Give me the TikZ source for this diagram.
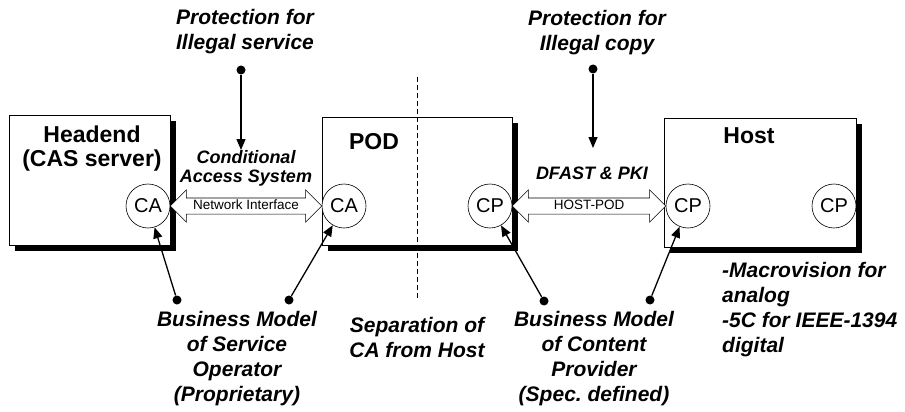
\documentclass[tikz,border=0pt]{standalone}
\usepackage{fontspec}
\setmainfont{Liberation Sans}
\usetikzlibrary{arrows.meta, calc, shapes.arrows, shadows}

\begin{document}
\begin{tikzpicture}[x=1pt, y=-1pt,
    box/.style={draw, line width=0.8pt, fill=white, inner sep=0pt,
      general shadow={fill=black, shadow xshift=6pt, shadow yshift=-6pt}},
    cnode/.style={draw, circle, line width=0.6pt, fill=white, minimum size=44pt,
      inner sep=0pt, font=\fontsize{20}{22}\selectfont},
    title/.style={font=\fontsize{23}{24}\selectfont\bfseries, align=center, inner sep=0pt},
    lbl/.style={font=\fontsize{21}{25}\selectfont\bfseries\itshape, align=center, inner sep=0pt},
    cas lbl/.style={font=\fontsize{18}{19.5}\selectfont\bfseries\itshape, align=center, inner sep=0pt},
    dot/.style={circle, fill=black, minimum size=9pt, inner sep=0pt},
    callout/.style={line width=1.3pt, -{Triangle[length=11pt, width=9pt]}},
    dblarrow/.style={double arrow, draw, line width=0.6pt, fill=white,
      double arrow head extend=8pt, inner xsep=0pt, inner ysep=1.5pt,
      text height=10pt, text depth=2.5pt, font=\fontsize{13.5}{15}\selectfont}
  ]
  \useasboundingbox (0,0) rectangle (905,412);
  % Boxes
  \node[box, minimum width=161, minimum height=130] (headend) at (89.5,180) {};
  \node[box, minimum width=190, minimum height=128] (pod) at (417,181) {};
  \node[box, minimum width=192, minimum height=129] (host) at (760,182.5) {};
  \node[title, anchor=north] (headtxt) at (92,126) {Headend\\(CAS server)};
  \node[title, anchor=north] (podtxt) at (374,133) {POD};
  \node[title, anchor=north] (hosttxt) at (749,127) {Host};
  % CA / CP modules
  \node[cnode] (ca1) at (148,206) {CA};
  \node[cnode] (ca2) at (344,206) {CA};
  \node[cnode] (cp1) at (490,206) {CP};
  \node[cnode] (cp2) at (688,206) {CP};
  \node[cnode] (cp3) at (834,206) {CP};
  % Interfaces
  \path let \p1 = ($(ca2.west)-(ca1.east)$) in
    node[dblarrow, minimum height=\x1] (netif) at ($(ca1.east)!0.5!(ca2.west)$) {Network Interface};
  \path let \p1 = ($(cp2.west)-(cp1.east)$) in
    node[dblarrow, minimum height=\x1] (hostpod) at ($(cp1.east)!0.5!(cp2.west)$) {HOST-POD};
  \node[cas lbl, anchor=north] (cas) at (246,150) {Conditional\\Access System};
  \node[cas lbl, anchor=north] (dfast) at (592,167) {DFAST \& PKI};
  % Separation line
  \draw[line width=0.7pt, dash pattern=on 5pt off 3pt]
    ($(pod.north)+(0,-40)$) -- ($(pod.south)+(0,53)$);
  % Labels
  \node[lbl, anchor=north] (illserv) at (245,9) {Protection for\\Illegal service};
  \node[lbl, anchor=north] (illcopy) at (597,10) {Protection for\\Illegal copy};
  \node[lbl, anchor=north] (bmso) at (237,311) {Business Model\\of Service\\Operator\\(Proprietary)};
  \node[lbl, anchor=north] (sepca) at (417,317) {Separation of\\CA from Host};
  \node[lbl, anchor=north] (bmcp) at (594,311) {Business Model\\of Content\\Provider\\(Spec.\ defined)};
  \node[lbl, anchor=north west, align=left] (cpnote) at (722,262)
    {-Macrovision for\\analog\\-5C for IEEE-1394\\digital};
  % Callouts
  \node[dot] (d1) at (241,70) {};
  \node[dot] (d2) at (593,69) {};
  \node[dot] (d3) at (177,300) {};
  \node[dot] (d4) at (289,300) {};
  \node[dot] (d5) at (544,301) {};
  \node[dot] (d6) at (650,300) {};
  \draw[callout] (d1) -- (d1 |- cas.north);
  \draw[callout, shorten >=19pt] (d2) -- (d2 |- dfast.north);
  \draw[callout] (d3) -- (ca1);
  \draw[callout] (d4) -- (ca2);
  \draw[callout] (d5) -- (cp1);
  \draw[callout] (d6) -- (cp2);
\end{tikzpicture}
\end{document}
